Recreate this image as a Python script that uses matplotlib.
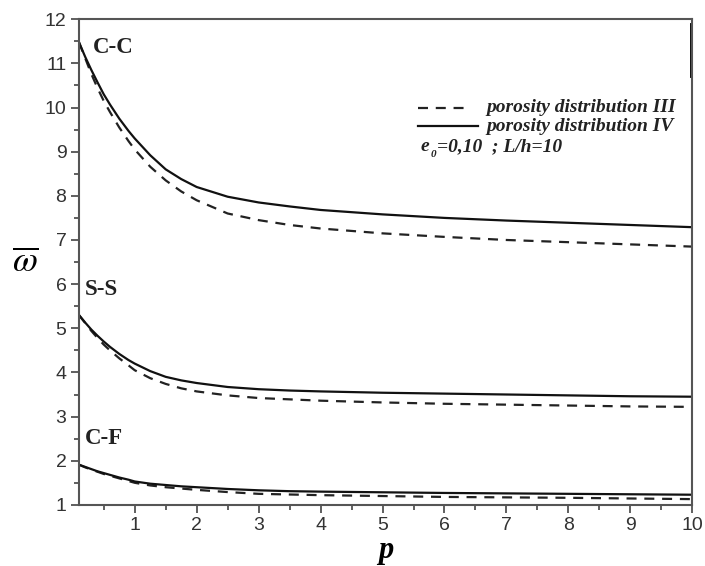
import matplotlib
matplotlib.use("Agg")
import matplotlib.pyplot as plt
from matplotlib.ticker import MultipleLocator

p = [0.1, 0.2, 0.3, 0.4, 0.5, 0.6, 0.75, 0.9, 1, 1.25, 1.5, 1.75, 2, 2.5, 3, 3.5, 4, 5, 6, 7, 8, 9, 10]

cc_iv = [11.48, 11.15, 10.85, 10.57, 10.3, 10.07, 9.75, 9.47, 9.3, 8.92, 8.6, 8.38, 8.2, 7.98, 7.85,
         7.76, 7.68, 7.58, 7.5, 7.44, 7.39, 7.34, 7.29]
cc_iii = [11.48, 11.12, 10.76, 10.44, 10.15, 9.9, 9.55, 9.24, 9.05, 8.66, 8.35, 8.1, 7.9, 7.6, 7.45,
          7.34, 7.26, 7.15, 7.07, 7.0, 6.95, 6.9, 6.85]

ss_iv = [5.3, 5.13, 4.97, 4.83, 4.7, 4.58, 4.42, 4.28, 4.2, 4.03, 3.9, 3.82, 3.76, 3.67, 3.62,
         3.59, 3.57, 3.54, 3.52, 3.5, 3.48, 3.46, 3.45]
ss_iii = [5.3, 5.12, 4.94, 4.78, 4.63, 4.5, 4.32, 4.16, 4.05, 3.87, 3.74, 3.64, 3.57, 3.48, 3.42,
          3.39, 3.36, 3.32, 3.29, 3.27, 3.25, 3.23, 3.22]

cf_iv = [1.91, 1.86, 1.81, 1.76, 1.72, 1.68, 1.62, 1.57, 1.53, 1.48, 1.45, 1.42, 1.40, 1.36, 1.33,
         1.31, 1.30, 1.285, 1.27, 1.26, 1.25, 1.24, 1.23]
cf_iii = [1.91, 1.85, 1.80, 1.75, 1.70, 1.66, 1.60, 1.54, 1.50, 1.44, 1.40, 1.37, 1.34, 1.29, 1.25,
          1.235, 1.22, 1.20, 1.18, 1.17, 1.16, 1.145, 1.13]

bc_labels = ["C-C", "S-S", "C-F"]
legend_labels = ["porosity distribution III", "porosity distribution IV"]
note_text = "=0,10  ; L/h=10"

plt.rcParams['mathtext.fontset'] = 'stix'
fig = plt.figure(figsize=(7.05, 5.66), dpi=100)
ax = fig.add_axes([0.112, 0.108, 0.870, 0.858])

dash = (4.5, 3.5)
lw = 1.6
for yiii, yiv in [(cc_iii, cc_iv), (ss_iii, ss_iv), (cf_iii, cf_iv)]:
    ax.plot(p, yiii, color='#222222', lw=lw, dashes=dash)
    ax.plot(p, yiv, color='#111111', lw=lw)

ax.set_xlim(0.1, 10)
ax.set_ylim(1, 12)
ax.xaxis.set_major_locator(MultipleLocator(1))
ax.xaxis.set_minor_locator(MultipleLocator(0.5))
ax.yaxis.set_major_locator(MultipleLocator(1))
ax.yaxis.set_minor_locator(MultipleLocator(0.5))
ax.tick_params(which='both', direction='out', top=False, right=False,
               color='#444444', width=1.2)
ax.tick_params(which='major', length=6, labelsize=14, pad=3)
ax.tick_params(which='minor', length=3.5)
for lab in ax.get_xticklabels() + ax.get_yticklabels():
    lab.set_family('Liberation Sans')
    lab.set_color('#333333')
for s in ax.spines.values():
    s.set_color('#555555')
    s.set_linewidth(1.5)

# artifact thick bar at top of right spine
ax.axvline(10, ymin=(10.73 - 1) / 11, ymax=(11.86 - 1) / 11, color='black', lw=3.5)

serif_bold = dict(family='Liberation Serif', weight='bold', fontsize=16.5, color='#222222')
ax.text(0.32, 11.35, bc_labels[0], va='center', ha='left', **serif_bold)
ax.text(0.2, 5.87, bc_labels[1], va='center', ha='left', **serif_bold)
ax.text(0.2, 2.5, bc_labels[2], va='center', ha='left', **serif_bold)

# legend drawn manually in axes fraction coordinates
lx0, tx = 0.552, 0.665
ly = [0.818, 0.78]
ax.plot([lx0, 0.635], [ly[0], ly[0]], transform=ax.transAxes, color='#222222', lw=lw, dashes=dash)
ax.plot([lx0, 0.65], [ly[1], ly[1]], transform=ax.transAxes, color='#111111', lw=lw)
legfont = dict(family='Liberation Serif', weight='bold', style='italic', fontsize=14, color='#222222')
ax.text(tx, ly[0], legend_labels[0], transform=ax.transAxes, va='center', ha='left', **legfont)
ax.text(tx, ly[1], legend_labels[1], transform=ax.transAxes, va='center', ha='left', **legfont)
ax.text(0.557, 0.737, "e", transform=ax.transAxes, va='center', ha='left', **legfont)
ax.text(0.573, 0.722, "0", transform=ax.transAxes, va='center', ha='left', **{**legfont, 'fontsize': 8})
ax.text(0.583, 0.737, note_text, transform=ax.transAxes, va='center', ha='left', **legfont)

ax.set_xlabel("p", family='Liberation Serif', weight='bold', style='italic', fontsize=22, labelpad=1)
ax.set_ylabel(r"$\overline{\omega}$", fontsize=26, rotation=0, labelpad=14, va='center')

fig.savefig("out.png", dpi=100, facecolor='white')
